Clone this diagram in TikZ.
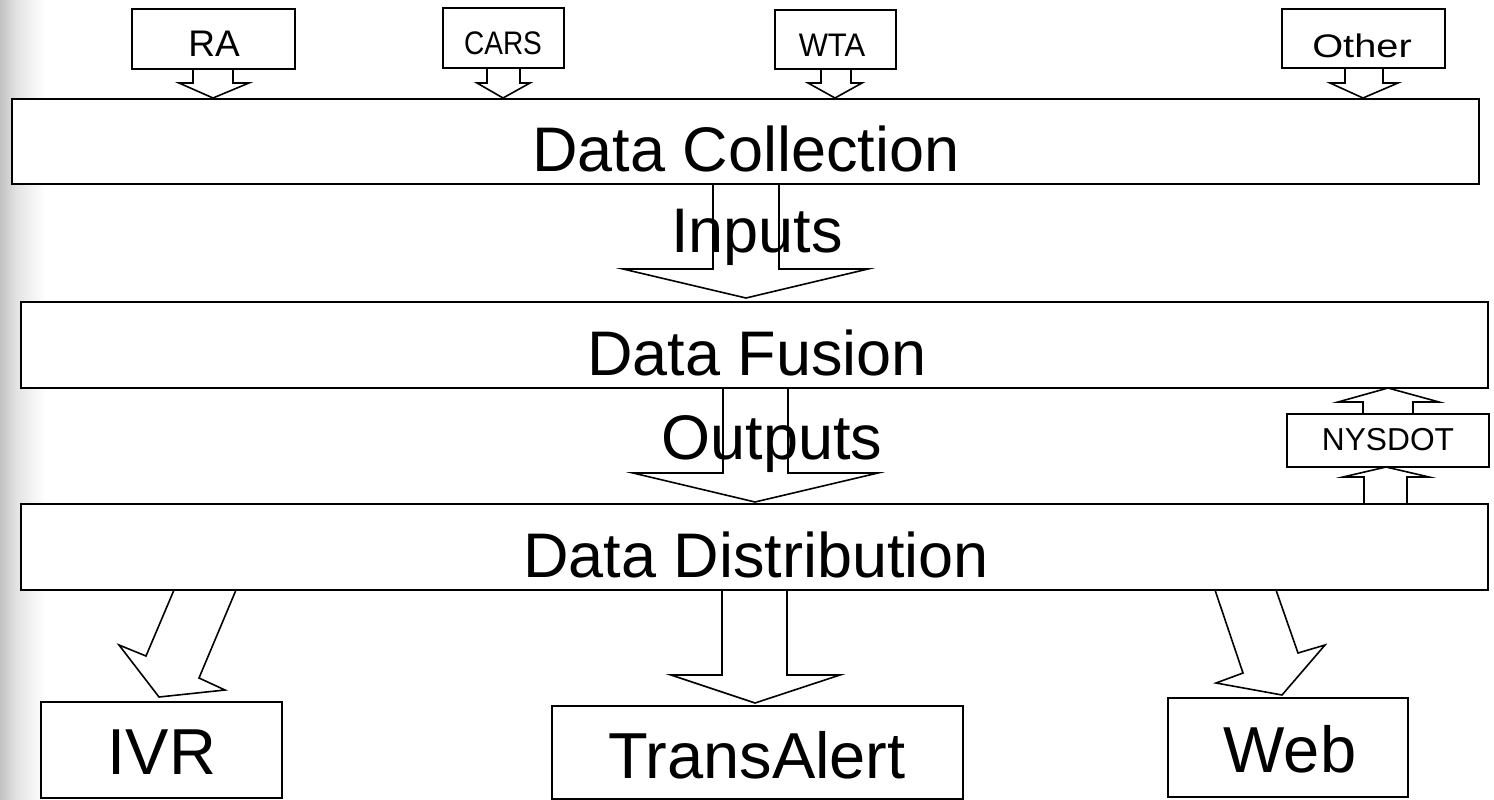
\documentclass[tikz,border=0pt]{standalone}
\usepackage{fontspec}
\setmainfont{Liberation Sans}
\begin{document}
\begin{tikzpicture}[x=1pt,y=-1pt,
  ln/.style={line width=1.6pt, line join=miter},
  boxs/.style={ln, draw=black, fill=white},
  big/.style={anchor=base, inner sep=0pt, font=\fontsize{63}{70}\selectfont},
  bigb/.style={anchor=base, inner sep=0pt, font=\fontsize{65}{72}\selectfont},
  small/.style={anchor=base, inner sep=0pt, font=\fontsize{32.6}{36}\selectfont},
]
\useasboundingbox (0,0) rectangle (1494,800);
\fill[white] (0,0) rectangle (1494,800);
\shade[left color=black!24, right color=black!10] (0,0) rectangle (18,800);
\shade[left color=black!10, right color=white] (18,0) rectangle (45,800);

% main boxes
\draw[boxs] (12,99) rectangle (1479,184);
\draw[boxs] (21,302) rectangle (1488,388);
\draw[boxs] (21,504) rectangle (1488,590);

% top source callouts
\draw[boxs] (132,9) rectangle (295,69);
\draw[ln] (193,69) -- (193,83) -- (179,83) -- (213,98) -- (249,83) -- (233,83) -- (233,69);
\draw[boxs] (443,8) rectangle (564,68);
\draw[ln] (487,68) -- (487,83) -- (477,83) -- (503,98) -- (530,83) -- (520,83) -- (520,68);
\draw[boxs] (775,10) rectangle (896,69);
\draw[ln] (821,69) -- (821,83) -- (808,83) -- (835,98) -- (862,83) -- (851,83) -- (851,69);
\draw[boxs] (1282,9) rectangle (1445,68);
\draw[ln] (1345,68) -- (1345,83) -- (1330,83) -- (1363,98) -- (1398,83) -- (1383,83) -- (1383,68);

% inputs / outputs arrows
\draw[ln] (713,184) -- (713,269) -- (623,269) -- (746,298) -- (868,269) -- (779,269) -- (779,184);
\draw[ln] (723,388) -- (723,473) -- (633,473) -- (755,502) -- (878,473) -- (788,473) -- (788,388);

% NYSDOT
\draw[boxs] (1287,414) rectangle (1489,467);
\draw[ln] (1363,414) -- (1363,402) -- (1338,402) -- (1388,388) -- (1439,402) -- (1413,402) -- (1413,414);
\draw[ln] (1364,504) -- (1364,477) -- (1343,477) -- (1386,467) -- (1429,477) -- (1407,477) -- (1407,504) -- cycle;

% bottom outputs
\draw[ln] (174,590) -- (146,656) -- (119,645) -- (159,697) -- (225,690) -- (199,678) -- (236,590);
\draw[boxs] (41,702) rectangle (282,798);
\draw[ln] (722,590) -- (722,675) -- (671,675) -- (755,703) -- (840,675) -- (787,675) -- (787,590);
\draw[boxs] (552,706) rectangle (963,799);
\draw[ln] (1215,590) -- (1243,673) -- (1216,683) -- (1282,695) -- (1325,645) -- (1298,653) -- (1276,590);
\draw[boxs] (1168,698) rectangle (1408,797);

% texts
\node[big] (tdc) at (746,171) {Data Collection};
\node[big] (tin) at (757,252) {Inputs};
\node[big] (tdf) at (757,375) {Data Fusion};
\node[big] (tout) at (772,459) {Outputs};
\node[big] (tdd) at (756,577) {Data Distribution};
\node[anchor=base, inner sep=0pt, font=\fontsize{31.7}{35}\selectfont] (tny) at (1388,450) {NYSDOT};
\node[anchor=base, inner sep=0pt, font=\fontsize{37}{40}\selectfont] (tra) at (214,57) {RA};
\node[small] (tcars) at (503,55) {\scalebox{0.86}[1]{CARS}};
\node[small] (twta) at (832,57) {\scalebox{0.95}[1]{WTA}};
\node[small] (toth) at (1362,58) {\scalebox{1.22}[1]{Other}};
\node[bigb] (tivr) at (162,774) {IVR};
\node[bigb] (tta) at (757,778) {TransAlert};
\node[bigb] (tweb) at (1290,772) {Web};
\end{tikzpicture}
\end{document}
